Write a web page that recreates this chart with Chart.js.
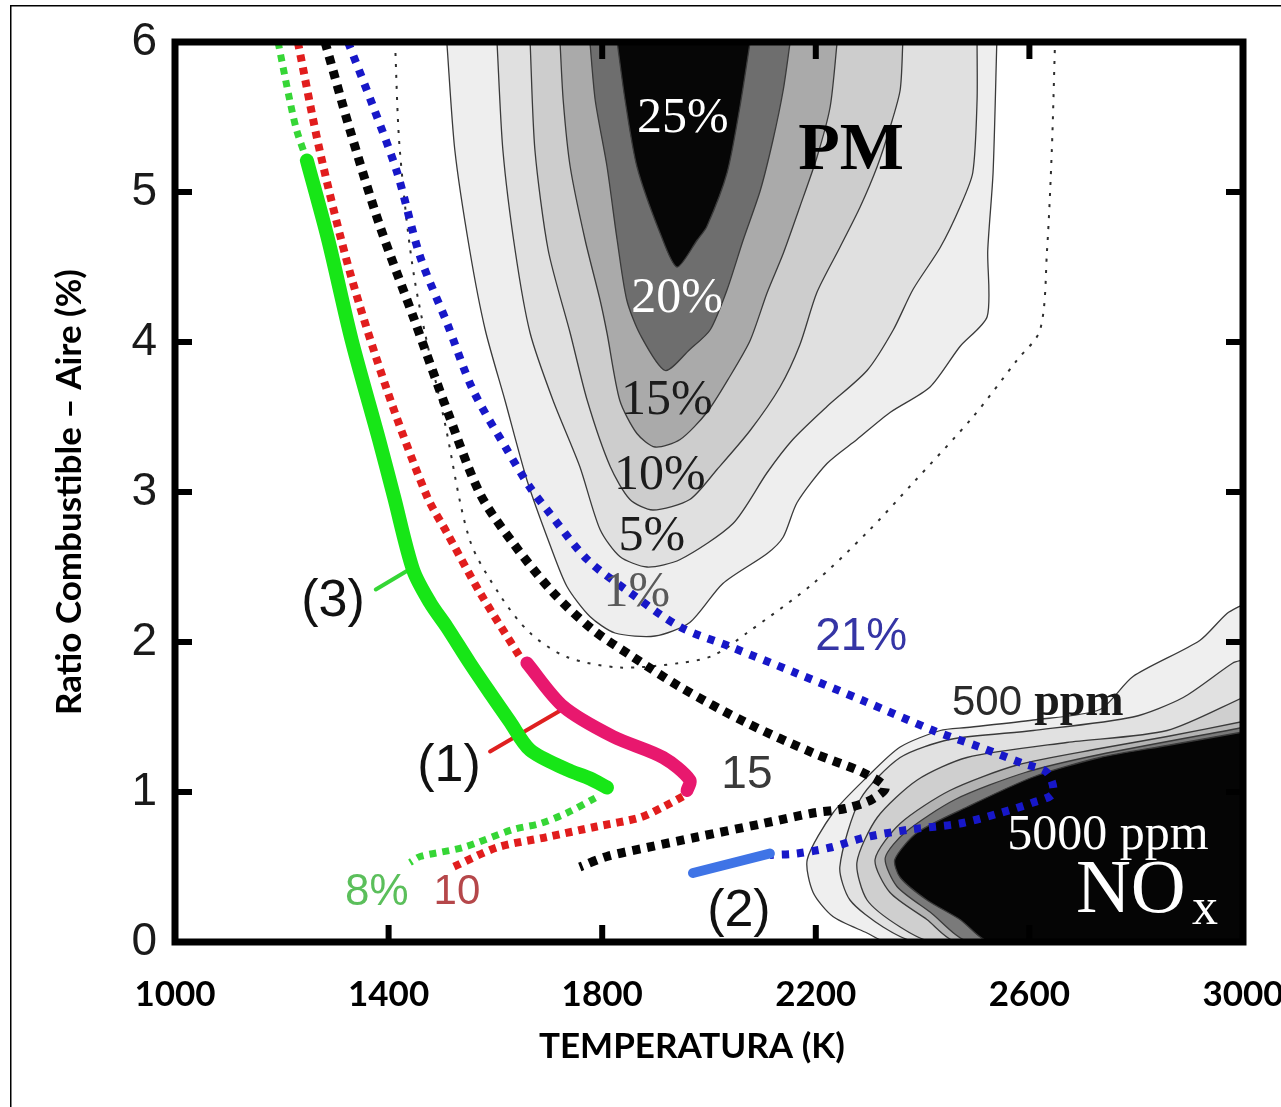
<!DOCTYPE html>
<html>
<head>
<meta charset="utf-8">
<script src="https://cdn.jsdelivr.net/npm/chart.js@4.4.1/dist/chart.umd.min.js"></script>
<style>
  html, body { margin: 0; padding: 0; background: #fff; overflow: hidden; }
  canvas { display: block; }
</style>
</head>
<body>
<canvas id="map" width="1281" height="1107"></canvas>
<script>
// Axis tick values: temperature (K) and fuel–air ratio
const tempTicks = [1000, 1400, 1800, 2200, 2600, 3000];
const ratioTicks = [0, 1, 2, 3, 4, 5, 6];

// PM yield iso-lines, points as [T (K), ratio]
const pm1  = [[1509,6.0],[1524,5.28],[1552,4.61],[1581,4.08],[1618,3.61],[1659,3.08],[1702,2.65],[1734,2.37],[1777,2.17],[1824,2.06],[1899,2.04],[1964,2.13],[2026,2.39],[2109,2.59],[2139,2.7],[2165,2.93],[2221,3.19],[2277,3.35],[2339,3.53],[2414,3.7],[2470,3.97],[2521,4.17],[2522,4.61],[2532,5.13],[2539,6.0]];
const pm5  = [[1603,6.0],[1614,5.28],[1637,4.61],[1665,4.06],[1708,3.61],[1758,3.17],[1796,2.75],[1833,2.57],[1884,2.5],[1946,2.55],[2045,2.79],[2109,3.13],[2157,3.35],[2221,3.57],[2296,3.81],[2345,4.08],[2382,4.35],[2433,4.63],[2470,4.9],[2494,5.13],[2502,5.61],[2502,6.0]];
const pm10 = [[1665,6.0],[1674,5.28],[1699,4.61],[1740,4.06],[1772,3.61],[1815,3.17],[1852,2.95],[1895,2.88],[1964,2.95],[2015,3.15],[2077,3.41],[2133,3.7],[2170,3.98],[2202,4.33],[2245,4.63],[2283,4.9],[2315,5.17],[2339,5.43],[2358,5.68],[2363,6.0]];
const pm15 = [[1721,6.0],[1727,5.61],[1740,5.17],[1768,4.68],[1796,4.28],[1809,4.06],[1833,3.61],[1865,3.39],[1899,3.3],[1946,3.35],[1996,3.53],[2039,3.77],[2077,4.01],[2109,4.33],[2139,4.59],[2170,4.9],[2202,5.23],[2227,5.57],[2240,6.0]];
const pm20 = [[1777,6.0],[1787,5.61],[1809,5.17],[1828,4.68],[1846,4.28],[1871,4.05],[1918,3.81],[1964,3.95],[2002,4.08],[2034,4.35],[2064,4.68],[2096,5.01],[2120,5.35],[2139,5.68],[2152,6.0]];
const pm25 = [[1828,6.0],[1843,5.61],[1865,5.17],[1908,4.73],[1940,4.5],[1978,4.68],[1996,4.77],[2034,5.13],[2058,5.57],[2077,6.0]];
const pmEdge = [[1412,6.0],[1421,5.28],[1449,4.41],[1506,3.45],[1552,2.68],[1609,2.31],[1665,2.06],[1734,1.9],[1833,1.83],[1946,1.86],[2008,1.91],[2071,2.06],[2195,2.39],[2296,2.73],[2382,3.06],[2494,3.5],[2577,3.88],[2620,4.08],[2633,4.61],[2642,5.28],[2648,6.0]];

// NOx iso-lines (500 ppm outermost ... 5000 ppm innermost)
const nox1 = [[3000,2.25],[2970,2.19],[2919,2.01],[2794,1.77],[2732,1.55],[2607,1.48],[2483,1.43],[2433,1.41],[2358,1.3],[2296,1.1],[2232,0.86],[2184,0.55],[2195,0.33],[2232,0.17],[2296,0.06],[2333,0],[3000,0]];
const nox2 = [[3000,1.88],[2981,1.86],[2888,1.63],[2794,1.5],[2607,1.41],[2451,1.35],[2358,1.23],[2283,0.95],[2245,0.5],[2264,0.28],[2326,0.1],[2390,0],[3000,0]];
const nox3 = [[3000,1.63],[2858,1.41],[2670,1.33],[2483,1.23],[2390,1.08],[2315,0.83],[2277,0.53],[2296,0.28],[2358,0.1],[2420,0],[3000,0]];
const nox4 = [[3000,1.47],[2858,1.37],[2732,1.29],[2577,1.18],[2451,1.01],[2358,0.79],[2311,0.55],[2339,0.33],[2408,0.15],[2464,0],[3000,0]];
const nox5 = [[3000,1.43],[2732,1.25],[2592,1.13],[2461,0.95],[2367,0.73],[2330,0.56],[2352,0.37],[2414,0.2],[2489,0],[3000,0]];
const nox6 = [[3000,1.4],[2858,1.31],[2732,1.23],[2607,1.1],[2483,0.9],[2390,0.73],[2348,0.55],[2358,0.43],[2408,0.28],[2470,0.15],[2526,0],[3000,0]];

// Combustion paths: O2 = 8 %, 10 %, 15 %, 21 %
const green8Upper = [[1193,6.0],[1215,5.61],[1228,5.41],[1247,5.21]];
const green8Lower = [[1787,0.96],[1734,0.86],[1684,0.79],[1633,0.75],[1539,0.63],[1459,0.57],[1440,0.53]];
const red10Upper = [[1230,6.0],[1272,5.26],[1328,4.46],[1397,3.68],[1472,2.97],[1509,2.73],[1571,2.33],[1646,1.9]];
const red10Lower = [[1951,0.97],[1914,0.9],[1871,0.83],[1790,0.77],[1697,0.7],[1603,0.63],[1521,0.5]];
const black15 = [[1281,6.0],[1328,5.41],[1384,4.77],[1446,4.17],[1509,3.55],[1571,2.99],[1633,2.66],[1708,2.33],[1783,2.08],[1858,1.9],[1946,1.7],[2071,1.46],[2195,1.26],[2288,1.13],[2330,1.03],[2305,0.95],[2255,0.89],[2195,0.86],[2101,0.79],[1978,0.7],[1884,0.63],[1809,0.57],[1758,0.5]];
const blue21 = [[1324,6.0],[1371,5.57],[1416,5.13],[1459,4.57],[1509,4.13],[1558,3.68],[1622,3.28],[1665,3.03],[1697,2.88],[1772,2.55],[1852,2.33],[1946,2.1],[2039,1.97],[2165,1.79],[2288,1.61],[2420,1.41],[2507,1.3],[2588,1.19],[2633,1.13],[2644,0.99],[2607,0.93],[2545,0.86],[2470,0.79],[2376,0.75],[2296,0.7],[2227,0.63],[2165,0.59],[2114,0.58]];

// Operating regimes (1), (2), (3)
const path3 = [[1247,5.21],[1287,4.68],[1331,4.01],[1382,3.35],[1410,2.97],[1446,2.48],[1478,2.26],[1509,2.1],[1552,1.86],[1590,1.66],[1627,1.47],[1665,1.28],[1734,1.15],[1777,1.09],[1809,1.03]];
const path1 = [[1659,1.86],[1727,1.57],[1820,1.37],[1914,1.23],[1964,1.08],[1959,1.01]];
const path2 = [[2114,0.59],[1970,0.46]];
const leader3 = [[1376,2.35],[1442,2.49]];
const leader1 = [[1590,1.27],[1725,1.55]];

const pts = a => a.map(([x, y]) => ({ x, y }));

function region(points, color, order) {
  return { data: pts(points), showLine: true, fill: 'shape', backgroundColor: color,
           borderColor: '#3a3a3a', borderWidth: 1.3, pointRadius: 0, tension: 0.25, order };
}
function dotted(points, color, width, dash, order) {
  return { data: pts(points), showLine: true, fill: false, borderColor: color, borderWidth: width,
           borderDash: dash, borderCapStyle: 'butt', pointRadius: 0, tension: 0.3, order };
}
function solid(points, color, width, order) {
  return { data: pts(points), showLine: true, fill: false, borderColor: color, borderWidth: width,
           borderCapStyle: 'round', borderJoinStyle: 'round', pointRadius: 0, tension: 0.3, order };
}

const datasets = [
  region(pm1, '#eeeeee', 90),
  region(pm5, '#e0e0e0', 89),
  region(pm10, '#cdcdcd', 88),
  region(pm15, '#aaaaaa', 87),
  region(pm20, '#6e6e6e', 86),
  region(pm25, '#060606', 85),
  region(nox1, '#efefef', 80),
  region(nox2, '#e1e1e1', 79),
  region(nox3, '#cfcfcf', 78),
  region(nox4, '#b3b3b3', 77),
  region(nox5, '#7a7a7a', 76),
  region(nox6, '#050505', 75),
  dotted(pmEdge, '#2e2e2e', 2, [3, 8], 70),
  dotted(green8Upper, '#36d636', 7, [7, 6], 20),
  dotted(green8Lower, '#36d636', 7, [7, 6], 20),
  dotted(red10Upper, '#e11d1d', 8, [7, 6], 19),
  dotted(red10Lower, '#e11d1d', 8, [7, 6], 19),
  dotted(black15, '#050505', 9, [8, 7], 18),
  dotted(blue21, '#1717c8', 8, [7, 8], 17),
  solid(leader3, '#35d635', 4, 6),
  solid(leader1, '#df2020', 4, 6),
  solid(path3, '#17e617', 14, 5),
  solid(path1, '#e8186e', 13, 5),
  solid(path2, '#3f74e6', 10, 5)
];

// Text annotations placed in data coordinates
const notes = [
  { text: '25%', at: [1951, 5.49], font: '50px "Liberation Serif"', color: '#ffffff' },
  { text: '20%', at: [1940, 4.29], font: '50px "Liberation Serif"', color: '#ffffff' },
  { text: '15%', at: [1921, 3.61], font: '50px "Liberation Serif"', color: '#1c1c1c' },
  { text: '10%', at: [1908, 3.11], font: '50px "Liberation Serif"', color: '#1c1c1c' },
  { text: '5%',  at: [1893, 2.70], font: '50px "Liberation Serif"', color: '#1c1c1c' },
  { text: '1%',  at: [1865, 2.33], font: '50px "Liberation Serif"', color: '#5a5a5a' },
  { text: 'PM',  at: [2266, 5.27], font: 'bold 68px "Liberation Serif"', color: '#000000' },
  { text: '500', at: [2455, 1.59], font: '42px "Liberation Sans"', color: '#2b2b2b', align: 'left' },
  { text: 'ppm', at: [2609, 1.59], font: 'bold 46px "Liberation Serif"', color: '#1a1a1a', align: 'left' },
  { text: '5000 ppm', at: [2747, 0.71], font: '50px "Liberation Serif"', color: '#ffffff' },
  { text: 'NO', at: [2790, 0.33], font: '76px "Liberation Serif"', color: '#ffffff' },
  { text: 'x',  at: [2929, 0.21], font: '52px "Liberation Serif"', color: '#ffffff' },
  { text: '(3)', at: [1296, 2.27], font: '52px "Liberation Sans"', color: '#111111' },
  { text: '(1)', at: [1513, 1.17], font: '52px "Liberation Sans"', color: '#111111' },
  { text: '(2)', at: [2056, 0.20], font: '52px "Liberation Sans"', color: '#111111' },
  { text: '15',  at: [2071, 1.11], font: '46px "Liberation Sans"', color: '#3a3a3a' },
  { text: '10',  at: [1528, 0.33], font: '42px "Liberation Sans"', color: '#b5474a' },
  { text: '8%',  at: [1378, 0.33], font: '44px "Liberation Sans"', color: '#5bbf5b' },
  { text: '21%', at: [2285, 2.03], font: '46px "Liberation Sans"', color: '#3535a5' }
];

const notesPlugin = {
  id: 'notes',
  afterDatasetsDraw(chart) {
    const { ctx, scales: { x, y } } = chart;
    ctx.save();
    ctx.textBaseline = 'middle';
    for (const n of notes) {
      ctx.font = n.font;
      ctx.fillStyle = n.color;
      ctx.textAlign = n.align || 'center';
      ctx.fillText(n.text, x.getPixelForValue(n.at[0]), y.getPixelForValue(n.at[1]));
    }
    ctx.restore();
  }
};

const titleFont = { family: 'Lato', weight: 'bold', size: 35 };
const xTitle = 'TEMPERATURA (K)';

// Heavy plot frame with inward tick marks, the x-axis title and the thin outer border
const framePlugin = {
  id: 'frame',
  afterDraw(chart) {
    const { ctx, chartArea: a, scales: { x, y } } = chart;
    ctx.save();
    ctx.strokeStyle = '#000';
    ctx.lineWidth = 7;
    ctx.strokeRect(a.left, a.top, a.right - a.left, a.bottom - a.top);
    ctx.lineWidth = 6;
    ctx.beginPath();
    for (const v of tempTicks.slice(1, -1)) {
      const px = x.getPixelForValue(v);
      ctx.moveTo(px, a.bottom); ctx.lineTo(px, a.bottom - 17);
      if (v >= 1800) { ctx.moveTo(px, a.top); ctx.lineTo(px, a.top + 17); }
    }
    for (const v of ratioTicks.slice(1, -1)) {
      const py = y.getPixelForValue(v);
      ctx.moveTo(a.left, py); ctx.lineTo(a.left + 17, py);
      ctx.moveTo(a.right, py); ctx.lineTo(a.right - 17, py);
    }
    ctx.stroke();

    ctx.fillStyle = '#000';
    ctx.font = 'bold 35px Lato';
    ctx.textAlign = 'center';
    ctx.textBaseline = 'middle';
    ctx.fillText(xTitle, a.left + (a.right - a.left) * 0.484, a.bottom + 105);

    ctx.lineWidth = 1.5;
    ctx.strokeRect(10.75, 5.75, 1400, 1200);
    ctx.restore();
  }
};

new Chart(document.getElementById('map'), {
  type: 'scatter',
  data: { datasets },
  options: {
    responsive: false,
    animation: false,
    devicePixelRatio: 1,
    layout: { padding: { top: 42, right: 38, left: 0, bottom: 0 } },
    plugins: { legend: { display: false }, tooltip: { enabled: false } },
    scales: {
      x: {
        type: 'linear', min: 1000, max: 3000,
        afterBuildTicks: s => { s.ticks = tempTicks.map(v => ({ value: v })); },
        afterFit: s => { s.height = 165; s.paddingLeft = 0; s.paddingRight = 0; },
        grid: { display: false, drawTicks: false },
        border: { display: false },
        ticks: { font: titleFont, color: '#000', padding: 32, maxRotation: 0, autoSkip: false,
                 callback: v => String(v) },
        title: { display: false }
      },
      y: {
        type: 'linear', min: 0, max: 6,
        afterBuildTicks: s => { s.ticks = ratioTicks.map(v => ({ value: v })); },
        afterFit: s => { s.width = 175; s.paddingTop = 0; s.paddingBottom = 0; },
        grid: { display: false, drawTicks: false },
        border: { display: false },
        ticks: { font: { family: 'Liberation Sans', size: 46 }, color: '#1a1a1a', padding: 18,
                 callback: v => String(v) },
        title: { display: true, text: 'Ratio Combustible – Aire (%)', font: titleFont, color: '#000', padding: { top: 49 } }
      }
    }
  },
  plugins: [notesPlugin, framePlugin]
});
</script>
</body>
</html>
